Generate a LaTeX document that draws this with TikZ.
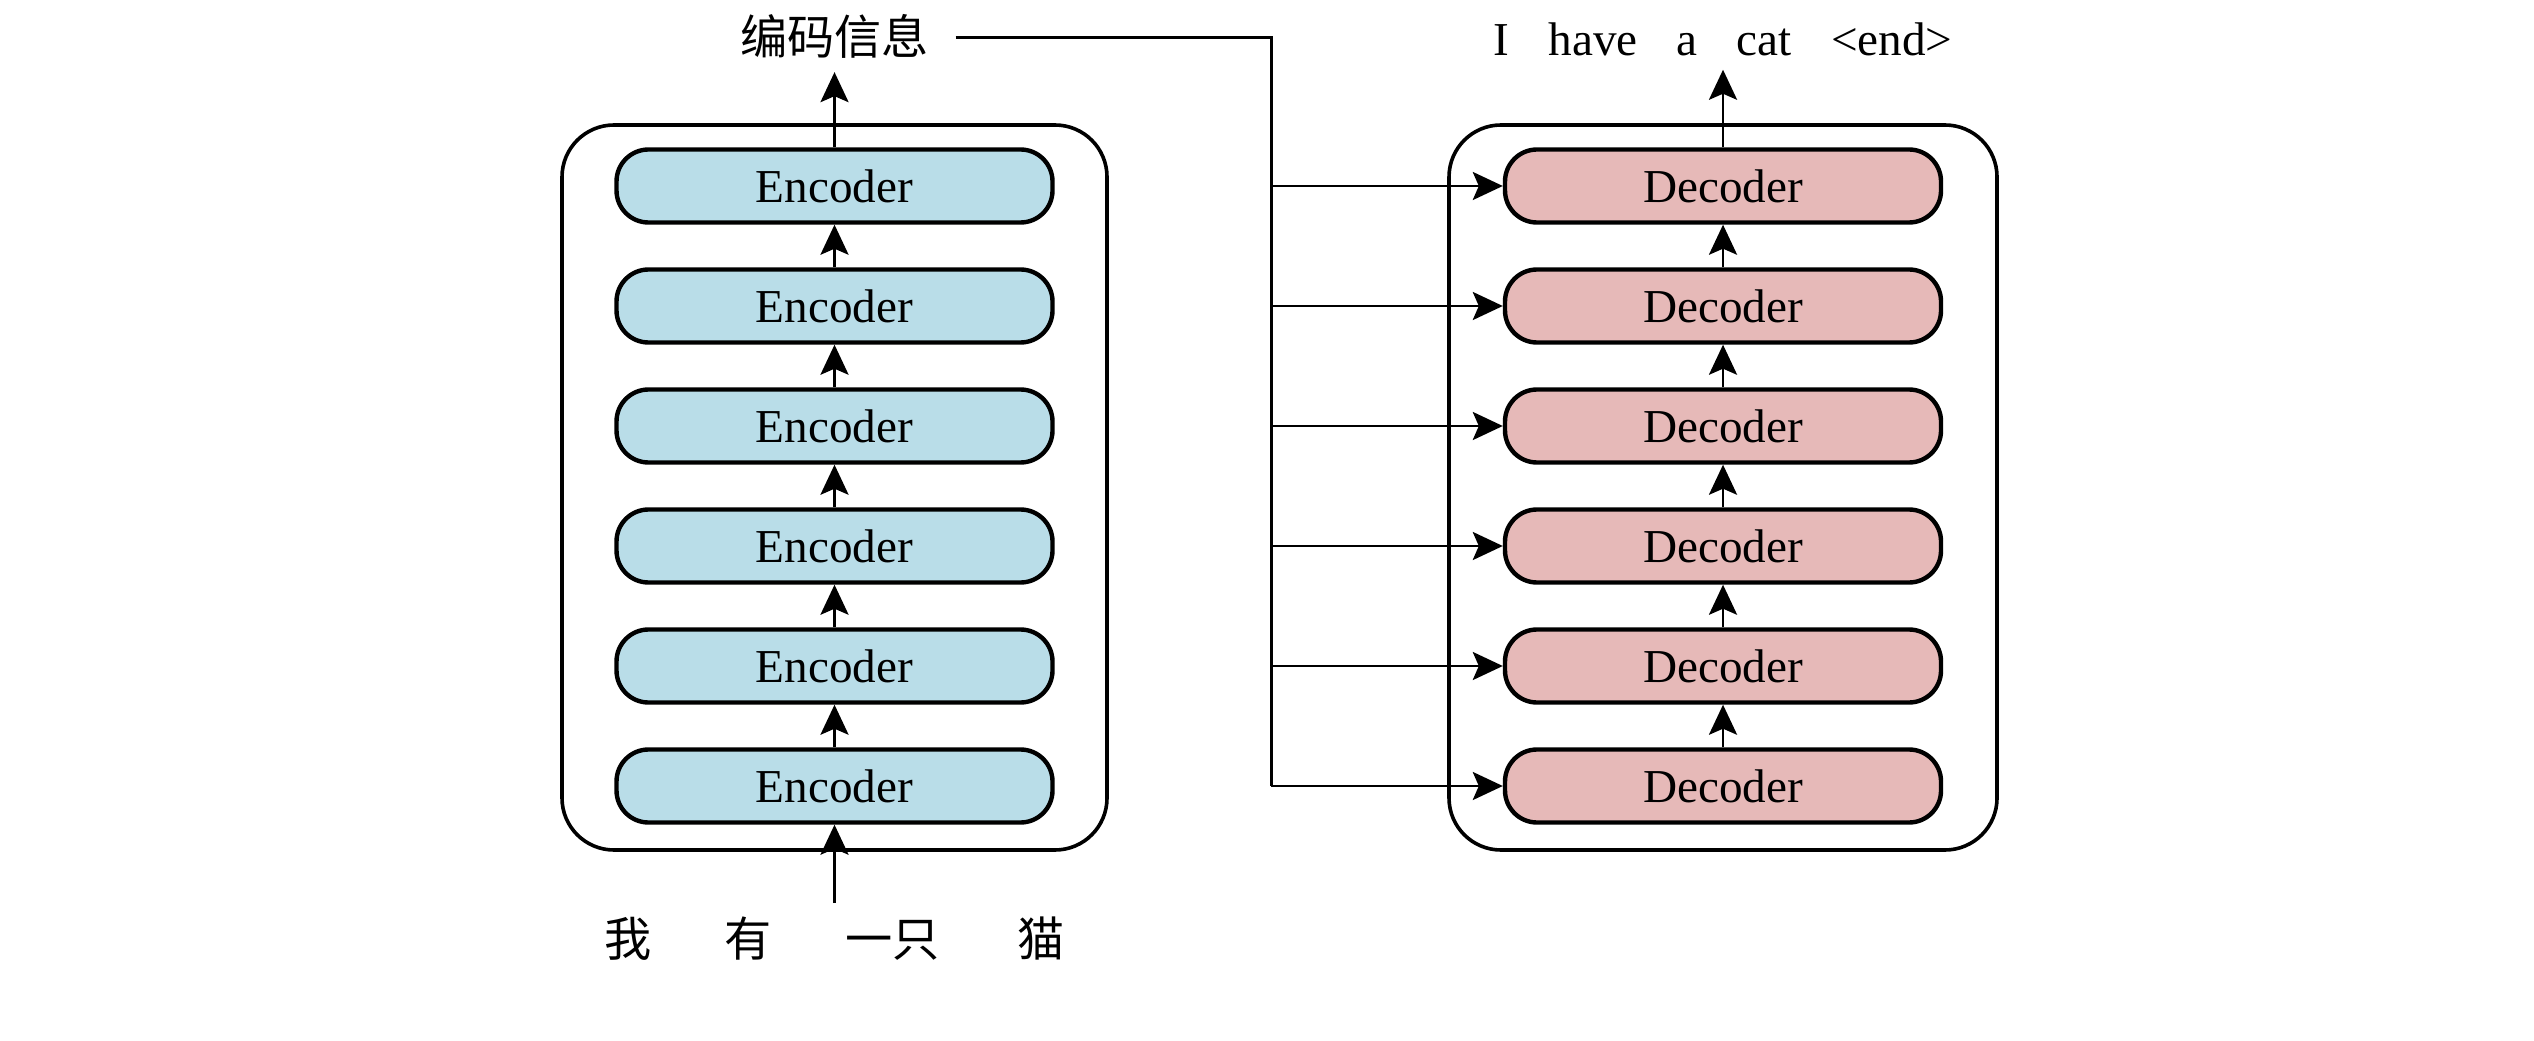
\documentclass[tikz,border=0pt]{standalone}
\usepackage{fontspec}
\setmainfont{Liberation Serif}
\newfontfamily\cjk{Noto Sans CJK SC}
\usetikzlibrary{arrows.meta, calc}
\definecolor{encblue}{HTML}{B9DDE8}
\definecolor{decpink}{HTML}{E6B9B8}

\begin{document}
\begin{tikzpicture}[x=0.25pt, y=0.25pt,
  font=\fontsize{11.8pt}{14pt}\selectfont,
  block/.style={draw, line width=1.1pt, rounded corners=8pt, minimum width=109pt, minimum height=18.25pt, inner sep=0pt},
  enc/.style={block, fill=encblue},
  dec/.style={block, fill=decpink},
  stack/.style={draw, line width=0.9pt, rounded corners=13pt},
  arr/.style={-{Stealth[length=7.5pt, width=7pt, inset=1.5pt]}, line width=0.7pt}]
  \useasboundingbox (0,0) rectangle (2534,1040);

  \pgfmathsetmacro{\ex}{834.5};
  \pgfmathsetmacro{\dx}{1723};

  \draw[stack] (562,190) rectangle (1107,915);
  \draw[stack] (1449,190) rectangle (1997,915);

  \node[enc] (E1) at (\ex, 854) {Encoder};
  \node[enc] (E2) at (\ex, 734) {Encoder};
  \node[enc] (E3) at (\ex, 614) {Encoder};
  \node[enc] (E4) at (\ex, 494) {Encoder};
  \node[enc] (E5) at (\ex, 374) {Encoder};
  \node[enc] (E6) at (\ex, 254) {Encoder};

  \node[dec] (D1) at (\dx, 854) {Decoder};
  \node[dec] (D2) at (\dx, 734) {Decoder};
  \node[dec] (D3) at (\dx, 614) {Decoder};
  \node[dec] (D4) at (\dx, 494) {Decoder};
  \node[dec] (D5) at (\dx, 374) {Decoder};
  \node[dec] (D6) at (\dx, 254) {Decoder};

  \node (src) at (\ex, 101) {\cjk 我\hspace{1.55em}有\hspace{1.55em}一只\hspace{1.65em}猫};
  \node[inner xsep=6.5pt] (code) at (\ex, 1004) {\cjk 编码信息};
  \node (out) at (\dx, 1001) {I\hspace{0.83em}have\hspace{0.83em}a\hspace{0.83em}cat\hspace{0.83em}<end>};

  \draw[arr] (src) -- (E6);
  \draw[arr] (E6) -- (E5);
  \draw[arr] (E5) -- (E4);
  \draw[arr] (E4) -- (E3);
  \draw[arr] (E3) -- (E2);
  \draw[arr] (E2) -- (E1);
  \draw[arr] (E1) -- (code);

  \draw[arr] (D6) -- (D5);
  \draw[arr] (D5) -- (D4);
  \draw[arr] (D4) -- (D3);
  \draw[arr] (D3) -- (D2);
  \draw[arr] (D2) -- (D1);
  \draw[arr] (D1) -- (out);

  % encoder output to every decoder
  \coordinate (bus) at (1271, 1002);
  \draw[line width=0.75pt] (code.east |- bus) -- (bus) -- (bus |- D6);
  \draw[arr] (bus |- D1) -- (D1);
  \draw[arr] (bus |- D2) -- (D2);
  \draw[arr] (bus |- D3) -- (D3);
  \draw[arr] (bus |- D4) -- (D4);
  \draw[arr] (bus |- D5) -- (D5);
  \draw[arr] (bus |- D6) -- (D6);
\end{tikzpicture}
\end{document}
